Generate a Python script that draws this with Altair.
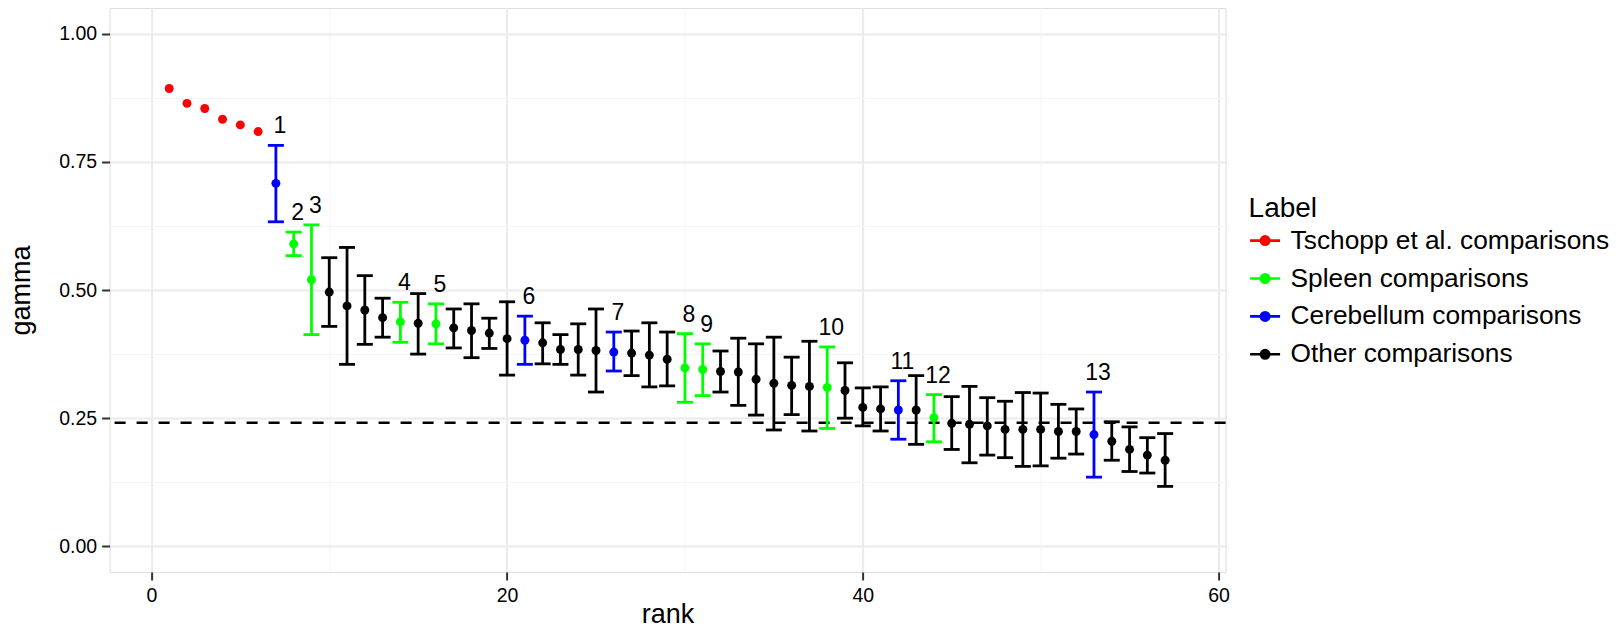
import altair as alt
import pandas as pd

FONT = "Liberation Sans"

# ---- data ----
ranks = list(range(1, 58))
gamma = [0.893, 0.864, 0.854, 0.833, 0.822, 0.809,
         0.708, 0.590, 0.520, 0.496, 0.469, 0.461, 0.446, 0.438, 0.435, 0.434,
         0.426, 0.421, 0.416, 0.405, 0.402, 0.397, 0.384, 0.384, 0.382, 0.379,
         0.377, 0.373, 0.365, 0.348, 0.345, 0.341, 0.340, 0.326, 0.318, 0.314,
         0.312, 0.310, 0.304, 0.271, 0.268, 0.266, 0.266, 0.251, 0.240, 0.238,
         0.235, 0.228, 0.228, 0.228, 0.224, 0.224, 0.218, 0.205, 0.189, 0.178,
         0.168]
lower = [None, None, None, None, None, None,
         0.633, 0.567, 0.413, 0.429, 0.355, 0.394, 0.408, 0.398, 0.375, 0.395,
         0.387, 0.368, 0.386, 0.334, 0.355, 0.356, 0.355, 0.334, 0.301, 0.342,
         0.333, 0.311, 0.313, 0.281, 0.294, 0.301, 0.275, 0.256, 0.227, 0.257,
         0.225, 0.230, 0.250, 0.235, 0.225, 0.209, 0.199, 0.204, 0.189, 0.163,
         0.178, 0.173, 0.156, 0.157, 0.172, 0.180, 0.135, 0.168, 0.146, 0.143,
         0.117]
upper = [None, None, None, None, None, None,
         0.782, 0.613, 0.627, 0.563, 0.583, 0.528, 0.484, 0.476, 0.493, 0.473,
         0.463, 0.473, 0.445, 0.477, 0.449, 0.436, 0.413, 0.434, 0.463, 0.418,
         0.420, 0.436, 0.418, 0.415, 0.395, 0.381, 0.406, 0.395, 0.408, 0.369,
         0.400, 0.389, 0.358, 0.309, 0.311, 0.323, 0.333, 0.296, 0.292, 0.312,
         0.290, 0.283, 0.300, 0.299, 0.277, 0.268, 0.301, 0.243, 0.233, 0.212,
         0.220]

categories = ["Tschopp et al. comparisons", "Spleen comparisons",
              "Cerebellum comparisons", "Other comparisons"]
colors = ["#FF0000", "#00FF00", "#0000FF", "#000000"]

tschopp_ranks = [1, 2, 3, 4, 5, 6]
spleen_ranks = [8, 9, 14, 16, 30, 31, 38, 44]
cerebellum_ranks = [7, 21, 26, 42, 53]

label_ranks = [7, 8, 9, 14, 16, 21, 26, 30, 31, 38, 42, 44, 53]
label_texts = ["1", "2", "3", "4", "5", "6", "7", "8", "9", "10", "11", "12", "13"]

baseline_gamma = 0.241


def group_of(r):
    if r in tschopp_ranks:
        return categories[0]
    if r in spleen_ranks:
        return categories[1]
    if r in cerebellum_ranks:
        return categories[2]
    return categories[3]


label_map = dict(zip(label_ranks, label_texts))
df = pd.DataFrame({
    "rank": ranks,
    "gamma": gamma,
    "lower": lower,
    "upper": upper,
    "group": [group_of(r) for r in ranks],
    "label": [label_map.get(r, "") for r in ranks],
})

# ---- scales / axes ----
xscale = alt.Scale(domain=[-2.35, 60.4], nice=False, zero=False)
yscale = alt.Scale(domain=[-0.05, 1.05], nice=False, zero=False)
cscale = alt.Scale(domain=categories, range=colors)

xmajor = "datum.value % 20 === 0"
ymajor = "abs(datum.value * 4 - round(datum.value * 4)) < 0.000001"

x_axis = alt.Axis(
    values=[0, 10, 20, 30, 40, 50, 60], title="rank", grid=True,
    gridColor={"condition": {"test": xmajor, "value": "#EBEBEB"}, "value": "#F4F4F4"},
    gridWidth={"condition": {"test": xmajor, "value": 2}, "value": 1},
    tickColor={"condition": {"test": xmajor, "value": "#333333"}, "value": "transparent"},
    labelExpr=f"{xmajor} ? datum.label : ''",
    tickSize=8, tickWidth=2, labelFontSize=19.5, labelFont=FONT, labelColor="#000000",
    labelBaseline="alphabetic", labelPadding=21.7, labelOverlap=False, labelFlush=False,
    titleFontSize=27, titleFont=FONT, titleFontWeight="normal", titleColor="#000000",
    titleY=51, titleBaseline="alphabetic", titleX=558, titleAlign="center", domain=False,
)
y_axis = alt.Axis(
    values=[0, 0.125, 0.25, 0.375, 0.5, 0.625, 0.75, 0.875, 1.0], title="gamma", grid=True,
    format=".2f",
    gridColor={"condition": {"test": ymajor, "value": "#EBEBEB"}, "value": "#F4F4F4"},
    gridWidth={"condition": {"test": ymajor, "value": 2}, "value": 1},
    tickColor={"condition": {"test": ymajor, "value": "#333333"}, "value": "transparent"},
    labelExpr=f"{ymajor} ? datum.label : ''",
    tickSize=8, tickWidth=2, labelFontSize=19.5, labelFont=FONT, labelColor="#000000",
    labelBaseline="middle", labelPadding=5, labelOverlap=False, labelFlush=False,
    titleFontSize=27, titleFont=FONT, titleFontWeight="normal", titleColor="#000000",
    titleAngle=270, titleX=-80.3, titleY=282, titleAlign="center", titleBaseline="alphabetic",
    domain=False,
)

SYMBOL = ("M-1,0H1"
          "M-0.28,0A0.28,0.28 0 1,0 0.28,0A0.28,0.28 0 1,0 -0.28,0"
          "M-0.14,0A0.14,0.14 0 1,0 0.14,0A0.14,0.14 0 1,0 -0.14,0"
          "M-0.03,0A0.03,0.03 0 1,0 0.03,0A0.03,0.03 0 1,0 -0.03,0")

legend = alt.Legend(
    title="Label", orient="none", legendX=1139, legendY=186.6,
    symbolType=SYMBOL, symbolSize=900, symbolStrokeWidth=2.6,
    labelFontSize=26.3, labelFont=FONT, labelColor="#000000", labelOffset=9,
    titleFontSize=28, titleFont=FONT, titleFontWeight="normal", titleColor="#000000",
    titlePadding=1.5, rowPadding=7.9, padding=0, labelLimit=400,
)

X = alt.X("rank:Q", scale=xscale, axis=x_axis, title="rank")

base = alt.Chart(df)
valid = base.transform_filter("isValid(datum.lower)")

hline = alt.Chart(pd.DataFrame({"h": [baseline_gamma]})).mark_rule(
    strokeDash=[11, 11], strokeWidth=2.5, color="#000000"
).encode(y=alt.Y("h:Q", scale=yscale, axis=y_axis, title="gamma"))

bars = valid.mark_rule(strokeWidth=2.8).encode(
    x=X,
    y=alt.Y("lower:Q", scale=yscale, axis=y_axis, title="gamma"),
    y2="upper:Q",
    stroke=alt.Stroke("group:N", scale=cscale, legend=legend),
)

caps = valid.transform_fold(["lower", "upper"], as_=["end", "val"]).transform_calculate(
    xl="datum.rank - 0.45", xr="datum.rank + 0.45"
).mark_rule(strokeWidth=2.8).encode(
    x=alt.X("xl:Q", scale=xscale, axis=x_axis, title="rank"),
    x2="xr:Q",
    y=alt.Y("val:Q", scale=yscale, axis=y_axis, title="gamma"),
    stroke=alt.Stroke("group:N", scale=cscale, legend=legend),
)

points = base.mark_circle(size=80, opacity=1).encode(
    x=X,
    y=alt.Y("gamma:Q", scale=yscale, axis=y_axis, title="gamma"),
    fill=alt.Fill("group:N", scale=cscale, legend=None),
)

labels = valid.transform_filter("datum.label != ''").mark_text(
    font=FONT, fontSize=23, dx=4, dy=-12, baseline="alphabetic", align="center", color="#000000"
).encode(
    x=X,
    y=alt.Y("upper:Q", scale=yscale, axis=y_axis, title="gamma"),
    text="label:N",
)

chart = alt.layer(hline, bars, caps, points, labels).properties(
    width=1116, height=564,
    autosize=alt.AutoSizeParams(type="none"),
    padding={"left": 101.6, "top": 0, "right": 388, "bottom": 52},
).configure_view(stroke="#7F7F7F", strokeWidth=2).configure(background="white")

chart.save("out.html", embed_options={"renderer": "svg", "actions": False})
